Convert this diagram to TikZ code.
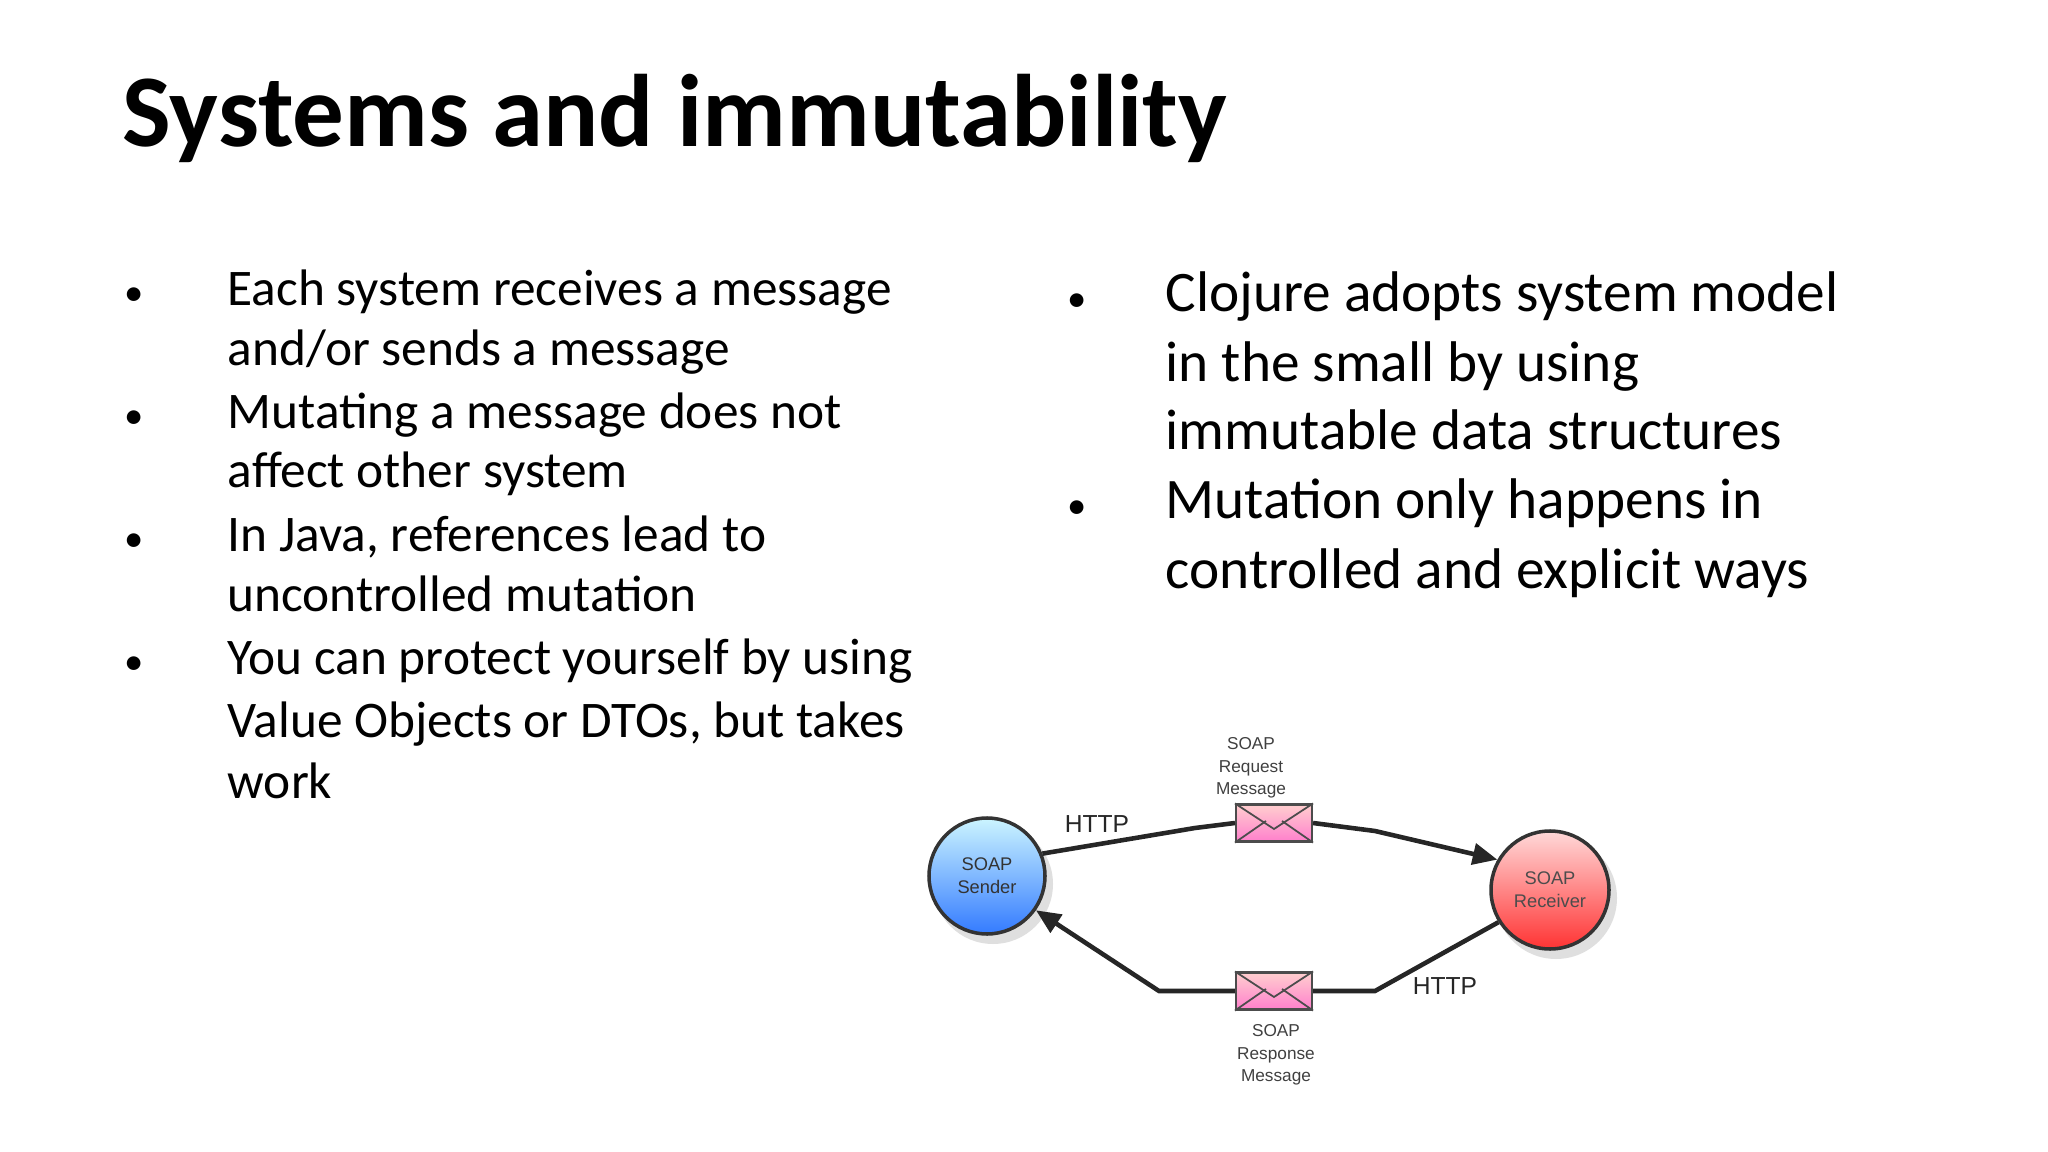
\documentclass[tikz,border=0pt]{standalone}
\usepackage{fontspec}
\setmainfont{Carlito}
\newfontfamily\diag{Liberation Sans}
\usetikzlibrary{arrows.meta}
\begin{document}
\begin{tikzpicture}[x=0.01cm,y=-0.01cm,
  ltxt/.style={anchor=base west,inner sep=0,font=\fontsize{14.6}{16}\selectfont},
  rtxt/.style={anchor=base west,inner sep=0,font=\fontsize{16.3}{18}\selectfont},
  bul/.style={anchor=base west,inner sep=0,font=\fontsize{11}{12}\selectfont},
  dlab/.style={font=\diag\fontsize{4.9}{6.4}\selectfont,align=center,text=black!75,inner sep=0},
  http/.style={font=\diag\fontsize{7}{8}\selectfont,text=black!85,inner sep=0},
  env/.style={draw=black!70,line width=0.6pt,top color=pink!70!red!40,bottom color=magenta!60!red!50,minimum width=76*0.01cm,minimum height=37*0.01cm,inner sep=0},
  conn/.style={line width=1.3pt,black!85},
  arr/.style={conn,-{Triangle[length=7pt,width=6pt]}}]
\useasboundingbox (0,0) rectangle (2048,1152);
\node[anchor=base west,inner sep=0,font=\fontsize{29.3}{32}\bfseries\selectfont] (title) at (122,147) {Systems and immutability};
% left bullets
\foreach \y in {306,429,551,675}{\node[bul] at (124,\y) {•};}
\node[ltxt] (l1) at (227,306) {Each system receives a message};
\node[ltxt] (l2) at (227,366) {and/or sends a message};
\node[ltxt] (l3) at (227,429) {Mutating a message does not};
\node[ltxt] (l4) at (227,488) {affect other system};
\node[ltxt] (l5) at (227,551) {In Java, references lead to};
\node[ltxt] (l6) at (227,612) {uncontrolled mutation};
\node[ltxt] (l7) at (227,675) {You can protect yourself by using};
\node[ltxt] (l8) at (227,737) {Value Objects or DTOs, but takes};
\node[ltxt] (l9) at (227,798) {work};
% right bullets
\foreach \y in {312,519}{\node[bul] at (1067,\y) {•};}
\node[rtxt] (r1) at (1165,312) {Clojure adopts system model};
\node[rtxt] (r2) at (1165,382) {in the small by using};
\node[rtxt] (r3) at (1165,450) {immutable data structures};
\node[rtxt] (r4) at (1165,519) {Mutation only happens in};
\node[rtxt] (r5) at (1165,588) {controlled and explicit ways};
% diagram
\begin{scope}[xshift=-0.06cm]
\fill[black!25,opacity=0.5] (999,884) circle (60);
\fill[black!25,opacity=0.5] (1562,898) circle (61);
\node[circle,draw=black!80,line width=1pt,top color=blue!20!cyan!20,bottom color=blue!65!cyan!80,minimum size=116*0.01cm,inner sep=0,align=center,font=\diag\fontsize{5.2}{6.6}\selectfont,text=black!80] (s) at (993,876) {SOAP\\Sender};
\node[circle,draw=black!80,line width=1pt,top color=red!15,bottom color=red!80,minimum size=118*0.01cm,inner sep=0,align=center,font=\diag\fontsize{5.2}{6.6}\selectfont,text=black!70] (r) at (1556,890) {SOAP\\Receiver};
\node[env] (e1) at (1280,823) {};
\node[env] (e2) at (1280,991) {};
\foreach \e in {e1,e2}{
  \draw[black!70,line width=0.5pt] (\e.north west) -- ([yshift=-0.06cm]\e.center) -- (\e.north east);
  \draw[black!70,line width=0.5pt] (\e.south west) -- ([xshift=-0.08cm,yshift=0.02cm]\e.center);
  \draw[black!70,line width=0.5pt] (\e.south east) -- ([xshift=0.08cm,yshift=0.02cm]\e.center);
}
\coordinate (a1) at (1201,828);
\coordinate (a2) at (1381,831);
\coordinate (b1) at (1381,991);
\coordinate (b2) at (1165,991);
\draw[conn] (s.22) -- (a1) -- (e1.west);
\draw[arr] (e1.east) -- (a2) -- (r.150);
\draw[conn] (r.212) -- (b1) -- (e2.east);
\draw[arr] (e2.west) -- (b2) -- (s.-35);
\node[dlab] (q) at (1257,768) {SOAP\\Request\\Message};
\node[dlab] (p) at (1282,1055) {SOAP\\Response\\Message};
\node[http] (h1) at (1103,824) {HTTP};
\node[http] (h2) at (1451,986) {HTTP};
\end{scope}
\end{tikzpicture}
\end{document}
